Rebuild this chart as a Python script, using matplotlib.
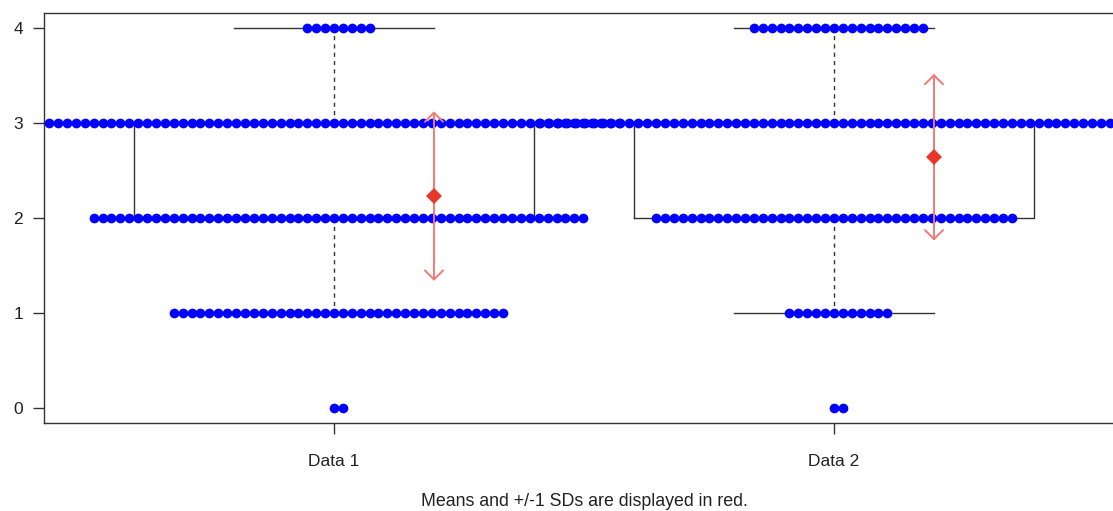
import numpy as np
import matplotlib
matplotlib.use("Agg")
import matplotlib.pyplot as plt

plt.rcParams['font.family'] = ['Liberation Sans', 'DejaVu Sans']

# values on the 0-4 scale and how many points sit at each level
levels = [0, 1, 2, 3, 4]
counts_data1 = [2, 38, 56, 65, 8]
counts_data2 = [2, 12, 41, 67, 20]
group_names = ["Data 1", "Data 2"]
caption = "Means and +/-1 SDs are displayed in red."

data1 = np.repeat(levels, counts_data1)
data2 = np.repeat(levels, counts_data2)
groups = [data1, data2]

dot_spacing = 0.0178   # horizontal gap between swarm points (x units)


def swarm_offsets(n):
    # 0, +1, -1, +2, -2, ... like beeswarm for tied values
    k = np.arange(n)
    return np.where(k % 2 == 1, (k + 1) // 2, -(k // 2)) * dot_spacing


fig = plt.figure(figsize=(11.13, 5.11), dpi=100)
ax = fig.add_axes([44 / 1113, 88 / 511, 1080 / 1113, 410 / 511])

# boxplot without outliers (the points show them)
ax.boxplot(groups, positions=[1, 2], widths=0.8, showfliers=False,
           boxprops=dict(color='#333333', linewidth=1),
           whiskerprops=dict(color='#333333', linewidth=1, linestyle=(0, (3, 3))),
           capprops=dict(color='#333333', linewidth=1),
           medianprops=dict(color='#333333', linewidth=2.5),
           capwidths=0.4, zorder=1)

# beeswarm points
for pos, values in zip([1, 2], groups):
    for lev in levels:
        n = int(np.sum(values == lev))
        if n == 0:
            continue
        xs = pos + swarm_offsets(n)
        ax.plot(xs, np.full(n, lev), 'o', color='#0000FF', markersize=7,
                markeredgewidth=0, zorder=3)

# means and +/- 1 SD
for pos, values in zip([1, 2], groups):
    m = values.mean()
    sd = values.std(ddof=1)
    ax.annotate('', xy=(pos + 0.2, m + sd), xytext=(pos + 0.2, m - sd),
                arrowprops=dict(arrowstyle='<->,head_length=0.65,head_width=0.65',
                                color='#F27A76', lw=1.4, shrinkA=0, shrinkB=0),
                zorder=4)
    ax.plot(pos + 0.2, m, 'D', color='#E8362A', markersize=8.5,
            markeredgewidth=0, zorder=5)

ax.set_xlim(0.42, 2.58)
ax.set_ylim(-0.16, 4.16)
ax.set_yticks(levels)
ax.set_yticklabels([str(v) for v in levels])
ax.set_xticks([1, 2])
ax.set_xticklabels(group_names)
ax.tick_params(axis='both', length=8, width=1, color='#333333',
               labelsize=12.5, labelcolor='#222222')
ax.tick_params(axis='x', pad=14)
ax.tick_params(axis='y', pad=7)
for sp in ax.spines.values():
    sp.set_color('#333333')
    sp.set_linewidth(1)

fig.text(584 / 1113, 1 - 501 / 511, caption, ha='center', va='center',
         fontsize=12.8, color='#222222')

fig.savefig('out.png', dpi=100)
